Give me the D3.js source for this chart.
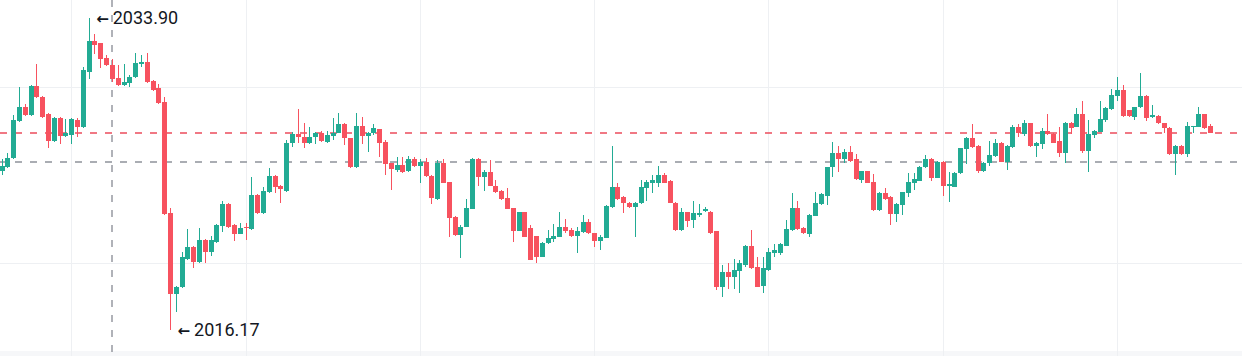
<!DOCTYPE html>
<html><head><meta charset="utf-8">
<script src="https://cdn.jsdelivr.net/npm/d3@7"></script>
<style>html,body{margin:0;padding:0;background:#fff;overflow:hidden}svg{display:block}</style>
</head><body><svg id="c" width="1242" height="356"></svg>
<script>
const openP = [2025.20,2025.43,2025.95,2028.04,2028.84,2028.39,2030.04,2029.41,2028.44,2026.91,
2028.22,2027.20,2027.26,2028.10,2027.71,2030.84,2032.59,2032.48,2031.63,2031.23,
2030.49,2030.10,2030.21,2030.55,2031.28,2031.40,2030.32,2029.92,2029.13,2022.82,
2018.22,2018.62,2020.21,2020.89,2020.04,2021.29,2020.61,2021.17,2022.08,2023.33,
2022.14,2021.63,2022.03,2021.91,2023.85,2022.82,2024.01,2024.92,2024.36,2024.07,
2026.80,2027.31,2027.14,2026.80,2027.14,2027.37,2026.86,2027.20,2027.37,2027.88,
2027.08,2025.43,2027.76,2027.20,2027.37,2027.59,2026.86,2025.66,2025.26,2025.55,
2025.20,2025.89,2025.49,2025.72,2024.92,2023.61,2025.66,2024.58,2022.59,2021.57,
2022.03,2023.05,2025.89,2024.86,2025.15,2024.36,2024.07,2023.67,2023.10,2021.80,
2022.88,2021.97,2021.51,2020.32,2021.12,2021.34,2021.46,2022.03,2021.85,2021.51,
2021.74,2022.31,2021.68,2021.23,2021.40,2023.16,2024.30,2023.73,2023.39,2023.16,
2023.39,2024.24,2024.53,2024.53,2024.98,2024.64,2023.39,2021.85,2022.88,2022.42,
2022.71,2022.93,2022.88,2021.80,2018.62,2019.47,2019.19,2019.53,2019.87,2020.95,
2019.75,2018.68,2019.58,2020.55,2020.55,2020.95,2021.85,2023.10,2021.97,2021.63,
2022.65,2023.33,2023.79,2025.43,2026.23,2025.89,2026.29,2025.89,2024.70,2025.20,
2024.58,2022.99,2023.96,2023.73,2022.76,2023.27,2023.96,2024.53,2024.64,2025.43,
2025.89,2024.81,2025.72,2024.36,2024.30,2025.09,2026.46,2027.08,2026.63,2025.20,
2025.66,2026.06,2026.80,2025.72,2026.57,2027.71,2027.31,2027.93,2026.63,2026.74,
2027.48,2027.31,2026.91,2026.23,2027.93,2027.71,2028.44,2026.34,2027.26,2027.43,
2028.10,2028.73,2029.47,2029.81,2028.67,2028.27,2028.84,2029.47,2028.27,2028.33,
2027.93,2027.65,2026.17,2026.63,2026.17,2027.71,2027.71,2028.44,2027.76];
const highP = [2025.89,2026.23,2028.39,2029.98,2029.01,2030.10,2031.28,2029.47,2028.50,2028.25,
2028.27,2028.16,2028.20,2028.22,2031.12,2033.90,2032.99,2032.50,2031.80,2031.57,
2031.23,2031.28,2030.66,2031.91,2031.80,2031.91,2030.38,2030.15,2029.41,2023.10,
2018.65,2020.61,2021.91,2020.95,2021.97,2021.32,2021.51,2022.17,2023.50,2023.36,
2022.17,2022.25,2022.25,2024.86,2023.90,2024.30,2025.38,2024.98,2024.41,2026.97,
2027.43,2028.73,2027.93,2027.71,2027.40,2027.48,2027.48,2028.22,2028.50,2027.93,
2027.10,2028.50,2028.27,2027.43,2027.88,2027.62,2026.97,2025.68,2026.00,2026.00,
2026.06,2026.00,2025.89,2025.95,2024.95,2025.83,2025.89,2024.60,2022.62,2022.14,
2023.61,2025.95,2025.92,2025.26,2025.83,2024.70,2024.10,2024.24,2023.13,2022.90,
2022.90,2022.14,2021.54,2021.15,2021.85,2022.20,2022.88,2022.48,2021.97,2022.03,
2022.71,2022.48,2021.71,2021.57,2023.25,2026.63,2024.53,2023.76,2023.42,2023.42,
2024.70,2024.70,2024.98,2025.49,2025.09,2024.67,2023.42,2023.10,2022.90,2023.50,
2023.33,2023.16,2022.95,2021.82,2019.87,2019.98,2020.21,2020.15,2020.98,2021.85,
2020.32,2020.32,2020.83,2021.06,2021.12,2022.42,2023.96,2023.50,2022.03,2022.76,
2024.01,2023.93,2025.46,2026.86,2026.63,2026.46,2026.63,2026.17,2025.23,2025.23,
2025.04,2023.99,2024.24,2023.76,2023.36,2024.04,2025.09,2025.09,2025.49,2026.12,
2025.92,2025.75,2025.75,2025.15,2025.15,2026.54,2027.14,2027.88,2026.66,2025.72,
2026.91,2027.03,2026.83,2026.66,2027.82,2027.88,2028.10,2027.96,2026.83,2027.65,
2028.44,2027.35,2027.71,2027.99,2027.99,2028.79,2029.18,2028.10,2027.51,2029.18,
2028.82,2029.87,2030.55,2030.10,2028.70,2028.87,2030.77,2029.50,2028.96,2028.36,
2027.96,2027.68,2026.66,2026.66,2027.99,2027.79,2028.84,2028.47,2027.88];
const lowP = [2024.98,2025.38,2025.89,2027.99,2028.33,2028.35,2029.36,2028.22,2026.51,2026.88,
2026.74,2027.14,2026.74,2027.14,2027.66,2030.43,2031.86,2031.06,2031.17,2030.26,
2030.04,2030.04,2029.98,2030.49,2031.12,2030.21,2029.75,2029.01,2022.71,2016.17,
2017.20,2018.57,2020.15,2019.69,2019.99,2019.98,2020.38,2021.12,2021.74,2021.97,
2021.23,2021.60,2021.29,2021.88,2022.78,2022.78,2023.98,2023.96,2023.39,2024.04,
2026.57,2026.80,2026.51,2026.74,2026.74,2026.86,2026.80,2026.97,2027.35,2026.68,
2025.40,2025.40,2026.74,2026.29,2027.26,2026.00,2024.98,2024.13,2025.15,2025.09,
2025.17,2025.43,2024.53,2024.86,2023.33,2023.58,2024.50,2021.46,2021.54,2020.26,
2022.00,2023.02,2024.36,2024.07,2024.33,2023.98,2023.58,2023.02,2021.17,2021.77,
2021.43,2020.12,2019.98,2020.29,2021.06,2021.17,2021.43,2021.68,2021.46,2020.55,
2021.71,2021.65,2020.89,2020.72,2021.37,2023.13,2023.58,2022.82,2023.13,2021.46,
2023.33,2023.50,2023.96,2024.30,2024.50,2023.36,2021.82,2021.82,2022.03,2021.97,
2022.59,2022.88,2021.65,2018.45,2018.05,2018.51,2018.51,2018.28,2019.75,2019.66,
2018.59,2018.28,2019.55,2020.32,2020.44,2020.92,2021.82,2021.88,2021.63,2021.46,
2022.62,2023.30,2023.27,2024.86,2025.15,2025.66,2025.72,2024.72,2024.53,2024.50,
2022.96,2022.96,2023.58,2022.14,2022.31,2022.71,2023.73,2024.13,2024.61,2025.40,
2024.64,2024.78,2023.79,2023.45,2024.27,2025.06,2025.60,2026.54,2025.09,2025.17,
2025.49,2026.00,2025.69,2025.26,2026.54,2027.14,2027.20,2026.57,2026.00,2026.46,
2027.26,2026.77,2026.00,2025.66,2027.31,2027.68,2026.23,2025.15,2027.08,2027.40,
2027.99,2028.70,2029.18,2028.27,2028.30,2028.10,2028.81,2028.04,2028.22,2027.90,
2027.37,2026.12,2024.98,2026.12,2026.00,2027.37,2027.68,2027.62,2027.35];
const closeP = [2025.49,2025.95,2028.10,2028.84,2028.39,2030.04,2029.41,2028.27,2026.91,2028.22,
2027.20,2027.37,2028.16,2027.71,2030.95,2032.59,2032.36,2031.57,2031.23,2030.43,
2030.10,2030.26,2030.55,2031.34,2031.40,2030.26,2029.81,2029.07,2022.76,2018.22,
2018.62,2020.32,2020.89,2020.04,2021.29,2020.61,2021.29,2022.14,2023.33,2022.03,
2021.63,2021.97,2021.97,2023.85,2022.82,2024.07,2024.92,2024.30,2024.19,2026.80,
2027.31,2027.14,2026.80,2027.14,2027.37,2026.91,2027.26,2027.37,2027.88,2027.08,
2025.43,2027.76,2027.20,2027.37,2027.65,2026.80,2025.60,2025.32,2025.55,2025.15,
2025.89,2025.49,2025.72,2024.92,2023.67,2025.66,2024.53,2022.54,2021.57,2022.03,
2023.10,2025.89,2024.86,2025.15,2024.36,2024.01,2023.61,2023.05,2021.80,2022.88,
2021.46,2020.15,2020.32,2021.12,2021.40,2021.51,2022.03,2021.80,2021.51,2021.80,
2022.31,2021.68,2021.23,2021.46,2023.22,2024.30,2023.61,2023.39,2023.16,2023.39,
2024.30,2024.58,2024.70,2024.98,2024.53,2023.39,2021.85,2022.88,2022.37,2022.82,
2022.82,2023.05,2021.68,2018.62,2019.47,2019.19,2019.58,2019.98,2020.95,2019.69,
2018.62,2019.69,2020.61,2020.72,2021.06,2021.91,2023.10,2021.91,2021.68,2022.71,
2023.39,2023.90,2025.43,2026.23,2025.89,2026.29,2025.77,2024.75,2025.20,2024.53,
2022.99,2023.96,2023.61,2022.76,2023.33,2024.01,2024.58,2024.75,2025.43,2025.89,
2024.81,2025.72,2024.36,2024.47,2025.09,2026.51,2027.08,2026.57,2025.20,2025.66,
2026.12,2026.80,2025.72,2026.63,2027.71,2027.37,2027.93,2026.63,2026.80,2027.48,
2027.31,2026.80,2026.23,2027.93,2027.65,2028.44,2026.34,2027.31,2027.48,2028.16,
2028.79,2029.53,2029.81,2028.33,2028.33,2028.84,2029.47,2028.22,2028.39,2027.93,
2027.65,2026.17,2026.63,2026.17,2027.76,2027.76,2028.44,2027.65,2027.37];

const gridIndex = [12, 42, 72, 102, 132, 162, 192];
const gridPrices = [2020, 2030];
const lastPrice = 2027.37;
const crosshairIndex = 19;
const crosshairPrice = 2025.72;
const highIndex = 15;
const lowIndex = 29;

const W = 1242, H = 356;
const upColor = '#22ab94', downColor = '#f7525f';
const svg = d3.select('#c');
const n = openP.length;
const x = d3.scaleLinear().domain([0, n - 1]).range([1.5, 1210]);
const y = d3.scaleLinear().domain([d3.min(lowP), d3.max(highP)]).range([330, 18]);

// bottom band (time scale edge)
svg.append('rect').attr('x', 0).attr('y', 351).attr('width', W).attr('height', 5).attr('fill', '#f6f7f9');

// grid
const grid = svg.append('g').attr('shape-rendering', 'crispEdges').attr('stroke', '#eef0f3').attr('stroke-width', 1);
grid.selectAll('line.v').data(gridIndex).join('line')
  .attr('x1', d => Math.round(x(d)) + 0.5).attr('x2', d => Math.round(x(d)) + 0.5)
  .attr('y1', 0).attr('y2', H);
grid.selectAll('line.h').data(gridPrices).join('line')
  .attr('x1', 0).attr('x2', W)
  .attr('y1', d => Math.round(y(d)) + 0.5).attr('y2', d => Math.round(y(d)) + 0.5);

// crosshair
const cross = svg.append('g')
  .attr('stroke', '#8f929b').attr('stroke-width', 1.4).attr('stroke-dasharray', '7,8');
cross.append('line')
  .attr('x1', Math.round(x(crosshairIndex))).attr('x2', Math.round(x(crosshairIndex)))
  .attr('y1', 0).attr('y2', H);
cross.append('line')
  .attr('x1', 0).attr('x2', W)
  .attr('y1', Math.round(y(crosshairPrice))).attr('y2', Math.round(y(crosshairPrice)));

// last price line
svg.append('line')
  .attr('x1', 0).attr('x2', W)
  .attr('y1', Math.round(y(lastPrice))).attr('y2', Math.round(y(lastPrice)))
  .attr('stroke', '#ec4c5c').attr('stroke-width', 1.4).attr('stroke-dasharray', '7,8');

// candles
const data = d3.range(n).map(i => ({i, o: openP[i], h: highP[i], l: lowP[i], c: closeP[i]}));
const g = svg.append('g').attr('shape-rendering', 'crispEdges');
const col = d => d.c >= d.o ? upColor : downColor;
g.selectAll('rect.w').data(data).join('rect')
  .attr('x', d => Math.round(x(d.i))).attr('width', 1)
  .attr('y', d => y(d.h)).attr('height', d => Math.max(1, y(d.l) - y(d.h)))
  .attr('fill', col);
g.selectAll('rect.b').data(data).join('rect')
  .attr('x', d => Math.round(x(d.i)) - 2).attr('width', 5)
  .attr('y', d => y(Math.max(d.o, d.c)))
  .attr('height', d => Math.max(1, Math.abs(y(d.o) - y(d.c))))
  .attr('fill', col);

// high / low labels
const labels = [
  {i: highIndex, v: highP[highIndex]},
  {i: lowIndex, v: lowP[lowIndex]}
];
const lt = svg.selectAll('text.lab').data(labels).join('text')
  .attr('x', d => x(d.i) + 7.5).attr('y', d => y(d.v) + 5.5)
  .attr('fill', '#131722').attr('font-family', 'Roboto, sans-serif').attr('font-size', 18);
lt.append('tspan').attr('font-family', 'DejaVu Sans').attr('font-size', 15).attr('font-weight', 'bold').text('←');
lt.append('tspan').attr('dx', 4).text(d => d.v.toFixed(2));
</script></body></html>
